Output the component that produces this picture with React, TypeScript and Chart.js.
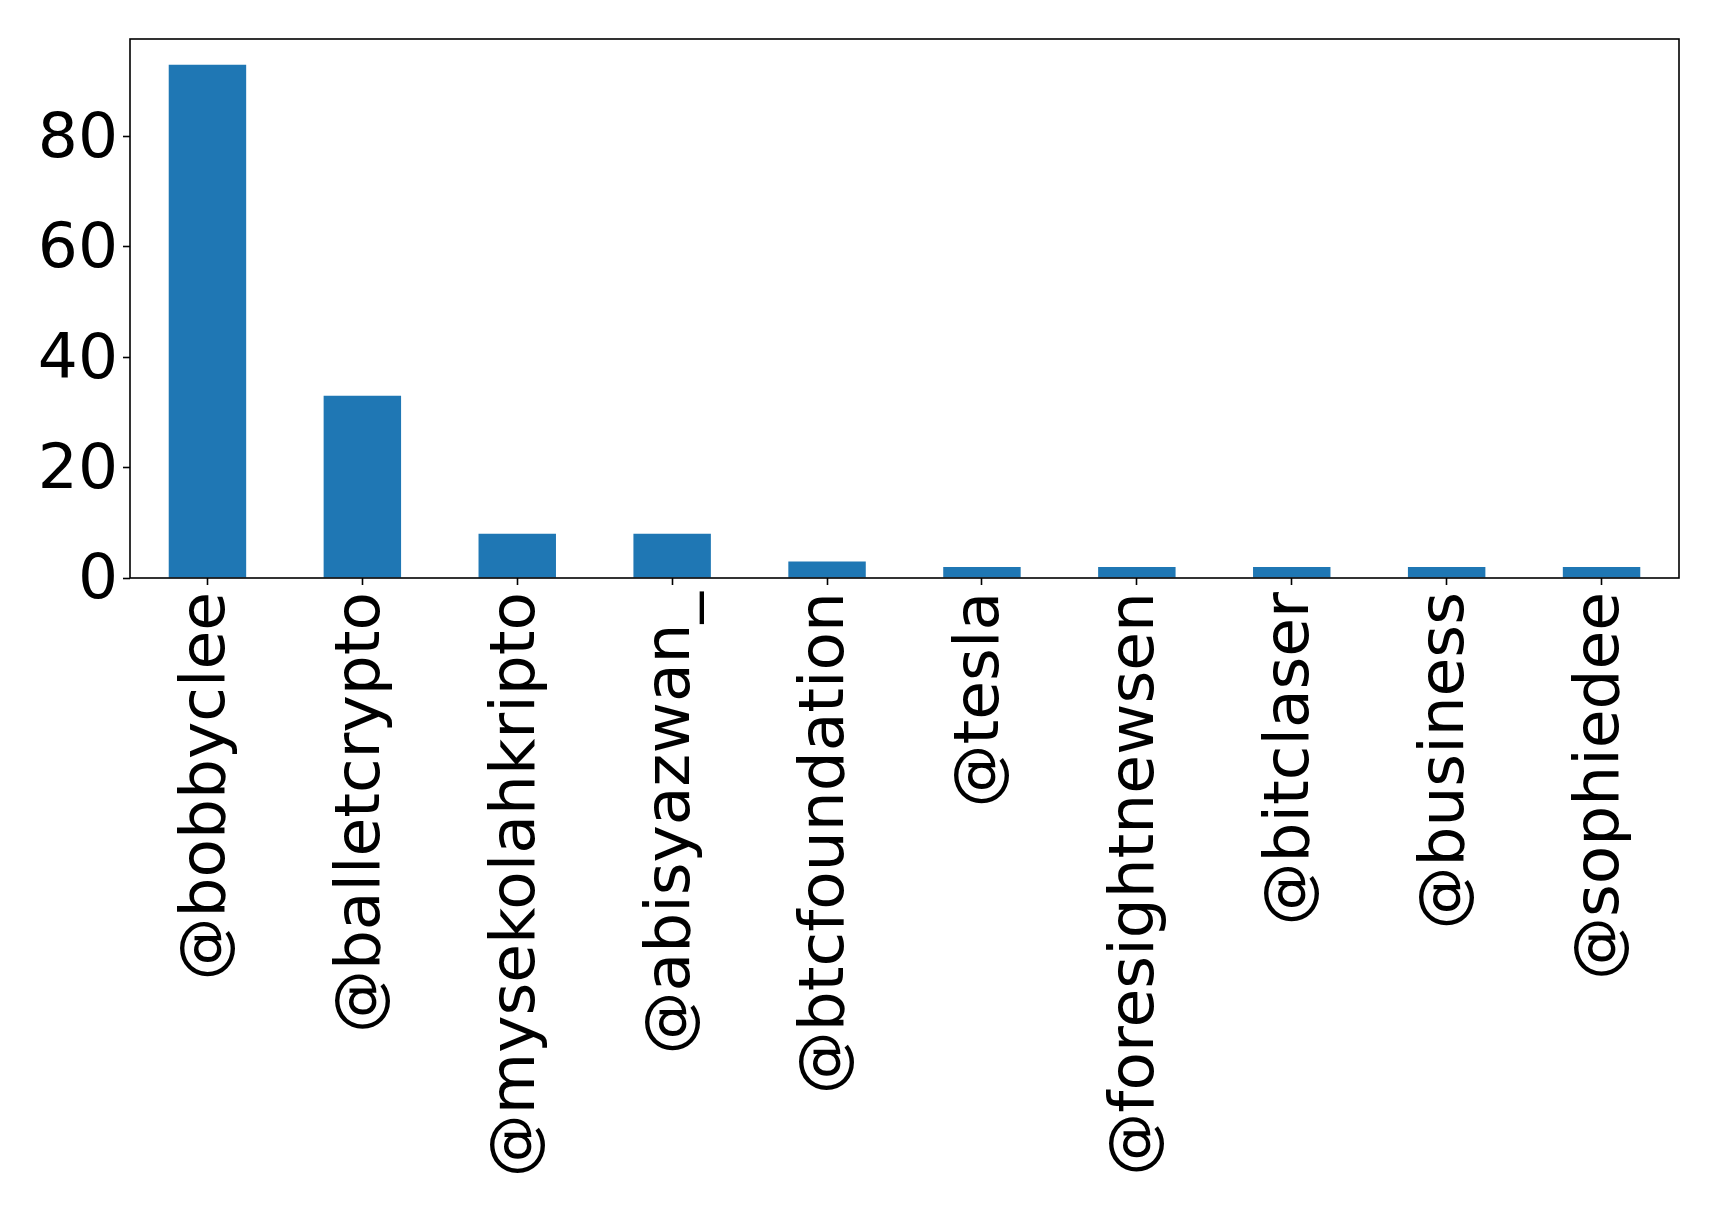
import React, { useEffect, useRef } from "react";
import { Chart, registerables } from "chart.js";

Chart.register(...registerables);

const CATEGORIES = [
  "@bobbyclee",
  "@balletcrypto",
  "@mysekolahkripto",
  "@abisyazwan_",
  "@btcfoundation",
  "@tesla",
  "@foresightnewsen",
  "@bitclaser",
  "@business",
  "@sophiedee",
];
const COUNTS = [93, 33, 8, 8, 3, 2, 2, 2, 2, 2];
const Y_TICKS = [0, 20, 40, 60, 80];

const W = 1719;
const H = 1208;
const PLOT_LEFT = 130;
const PLOT_TOP = 39;
const PLOT_RIGHT = 1679;
const PLOT_BOTTOM = 578;
const FONT = "'DejaVu Sans', 'Liberation Sans', sans-serif";
const FONT_SIZE = 63;

const framePlugin = {
  id: "frame",
  afterDatasetsDraw(chart: any) {
    const { ctx, chartArea } = chart;
    ctx.save();
    ctx.strokeStyle = "#000";
    ctx.lineWidth = 1.6;
    ctx.strokeRect(
      chartArea.left,
      chartArea.top,
      chartArea.right - chartArea.left,
      chartArea.bottom - chartArea.top
    );
    ctx.restore();
  },
};

export default function App() {
  const ref = useRef<HTMLCanvasElement | null>(null);
  useEffect(() => {
    document.body.style.margin = "0";
    const canvas = ref.current!;
    const maxY = Math.max(...COUNTS) * 1.05;
    const chart = new Chart(canvas, {
      type: "bar",
      data: {
        labels: CATEGORIES,
        datasets: [
          {
            data: COUNTS,
            backgroundColor: "#1f77b4",
            borderWidth: 0,
            categoryPercentage: 1,
            barPercentage: 0.5,
          },
        ],
      },
      options: {
        animation: false,
        responsive: false,
        devicePixelRatio: 1,
        layout: {
          padding: { top: PLOT_TOP, right: W - PLOT_RIGHT, left: 0, bottom: 0 },
        },
        plugins: {
          legend: { display: false },
          tooltip: { enabled: false },
          title: { display: false },
        },
        scales: {
          x: {
            offset: true,
            border: { display: false },
            grid: {
              offset: false,
              drawOnChartArea: false,
              drawTicks: true,
              tickLength: 7,
              tickWidth: 1.6,
              tickColor: "#000",
            },
            ticks: {
              color: "#000",
              font: { family: FONT, size: FONT_SIZE },
              minRotation: 90,
              maxRotation: 90,
              padding: 7,
              autoSkip: false,
            },
            afterFit: (scale: any) => {
              scale.height = H - PLOT_BOTTOM;
              scale.paddingLeft = 0;
              scale.paddingRight = 0;
            },
          },
          y: {
            min: 0,
            max: maxY,
            border: { display: false },
            grid: {
              drawOnChartArea: false,
              drawTicks: true,
              tickLength: 7,
              tickWidth: 1.6,
              tickColor: "#000",
            },
            ticks: {
              color: "#000",
              font: { family: FONT, size: FONT_SIZE },
              padding: 5,
              labelOffset: 4,
            },
            afterBuildTicks: (scale: any) => {
              scale.ticks = Y_TICKS.map((v) => ({ value: v }));
            },
            afterFit: (scale: any) => {
              scale.width = PLOT_LEFT;
              scale.paddingTop = 0;
              scale.paddingBottom = 0;
            },
          },
        },
      },
      plugins: [framePlugin],
    });
    return () => chart.destroy();
  }, []);
  return (
    <div style={{ width: W, height: H, background: "#fff" }}>
      <canvas ref={ref} width={W} height={H} style={{ display: "block" }} />
    </div>
  );
}
